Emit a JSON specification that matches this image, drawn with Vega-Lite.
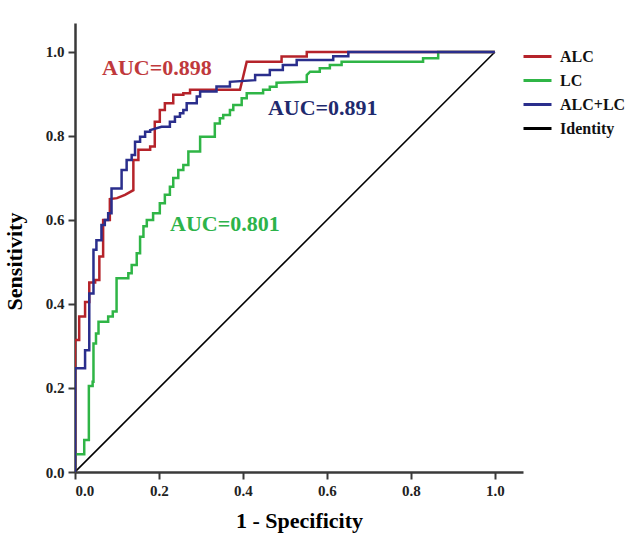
{
  "$schema": "https://vega.github.io/schema/vega-lite/v6.json",
  "width": 448,
  "height": 449,
  "autosize": {"type": "none"},
  "padding": {"left": 75, "top": 23, "right": 107, "bottom": 71},
  "background": "white",
  "config": {
    "view": {"stroke": null},
    "font": "Liberation Serif",
    "axis": {
      "grid": false,
      "domainColor": "#3a3a3a",
      "domainWidth": 2.5,
      "tickColor": "#3a3a3a",
      "tickWidth": 2,
      "tickSize": 7,
      "labelFont": "Liberation Serif",
      "labelFontWeight": "bold",
      "labelFontSize": 15,
      "labelColor": "#222222",
      "labelPadding": 4,
      "titleFont": "Liberation Serif",
      "titleFontWeight": "bold",
      "titleFontSize": 22,
      "titleColor": "#000000"
    },
    "legend": {
      "orient": "none",
      "legendX": 447,
      "legendY": 18,
      "title": null,
      "symbolType": "stroke",
      "symbolSize": 784,
      "symbolStrokeWidth": 3,
      "labelFont": "Liberation Serif",
      "labelFontWeight": "bold",
      "labelFontSize": 16,
      "labelColor": "#111111",
      "labelOffset": 7,
      "rowPadding": -7
    }
  },
  "datasets": {
    "roc": [
      {"series": "LC", "i": 0, "fpr": 0, "tpr": 0},
      {"series": "LC", "i": 1, "fpr": 0, "tpr": 0.042},
      {"series": "LC", "i": 2, "fpr": 0.022, "tpr": 0.042},
      {"series": "LC", "i": 3, "fpr": 0.022, "tpr": 0.076},
      {"series": "LC", "i": 4, "fpr": 0.033, "tpr": 0.076},
      {"series": "LC", "i": 5, "fpr": 0.033, "tpr": 0.205},
      {"series": "LC", "i": 6, "fpr": 0.042, "tpr": 0.205},
      {"series": "LC", "i": 7, "fpr": 0.042, "tpr": 0.215},
      {"series": "LC", "i": 8, "fpr": 0.044, "tpr": 0.215},
      {"series": "LC", "i": 9, "fpr": 0.044, "tpr": 0.306},
      {"series": "LC", "i": 10, "fpr": 0.05, "tpr": 0.306},
      {"series": "LC", "i": 11, "fpr": 0.05, "tpr": 0.33},
      {"series": "LC", "i": 12, "fpr": 0.056, "tpr": 0.33},
      {"series": "LC", "i": 13, "fpr": 0.056, "tpr": 0.358},
      {"series": "LC", "i": 14, "fpr": 0.079, "tpr": 0.358},
      {"series": "LC", "i": 15, "fpr": 0.079, "tpr": 0.37},
      {"series": "LC", "i": 16, "fpr": 0.09, "tpr": 0.37},
      {"series": "LC", "i": 17, "fpr": 0.09, "tpr": 0.382},
      {"series": "LC", "i": 18, "fpr": 0.099, "tpr": 0.382},
      {"series": "LC", "i": 19, "fpr": 0.099, "tpr": 0.461},
      {"series": "LC", "i": 20, "fpr": 0.127, "tpr": 0.461},
      {"series": "LC", "i": 21, "fpr": 0.127, "tpr": 0.473},
      {"series": "LC", "i": 22, "fpr": 0.135, "tpr": 0.473},
      {"series": "LC", "i": 23, "fpr": 0.135, "tpr": 0.493},
      {"series": "LC", "i": 24, "fpr": 0.147, "tpr": 0.493},
      {"series": "LC", "i": 25, "fpr": 0.147, "tpr": 0.521},
      {"series": "LC", "i": 26, "fpr": 0.155, "tpr": 0.521},
      {"series": "LC", "i": 27, "fpr": 0.155, "tpr": 0.56},
      {"series": "LC", "i": 28, "fpr": 0.163, "tpr": 0.56},
      {"series": "LC", "i": 29, "fpr": 0.163, "tpr": 0.585},
      {"series": "LC", "i": 30, "fpr": 0.171, "tpr": 0.585},
      {"series": "LC", "i": 31, "fpr": 0.171, "tpr": 0.6},
      {"series": "LC", "i": 32, "fpr": 0.186, "tpr": 0.6},
      {"series": "LC", "i": 33, "fpr": 0.186, "tpr": 0.616},
      {"series": "LC", "i": 34, "fpr": 0.202, "tpr": 0.616},
      {"series": "LC", "i": 35, "fpr": 0.202, "tpr": 0.64},
      {"series": "LC", "i": 36, "fpr": 0.214, "tpr": 0.64},
      {"series": "LC", "i": 37, "fpr": 0.214, "tpr": 0.66},
      {"series": "LC", "i": 38, "fpr": 0.226, "tpr": 0.66},
      {"series": "LC", "i": 39, "fpr": 0.226, "tpr": 0.679},
      {"series": "LC", "i": 40, "fpr": 0.234, "tpr": 0.679},
      {"series": "LC", "i": 41, "fpr": 0.234, "tpr": 0.7},
      {"series": "LC", "i": 42, "fpr": 0.246, "tpr": 0.7},
      {"series": "LC", "i": 43, "fpr": 0.246, "tpr": 0.719},
      {"series": "LC", "i": 44, "fpr": 0.258, "tpr": 0.719},
      {"series": "LC", "i": 45, "fpr": 0.258, "tpr": 0.731},
      {"series": "LC", "i": 46, "fpr": 0.27, "tpr": 0.731},
      {"series": "LC", "i": 47, "fpr": 0.27, "tpr": 0.763},
      {"series": "LC", "i": 48, "fpr": 0.298, "tpr": 0.763},
      {"series": "LC", "i": 49, "fpr": 0.298, "tpr": 0.798},
      {"series": "LC", "i": 50, "fpr": 0.333, "tpr": 0.798},
      {"series": "LC", "i": 51, "fpr": 0.333, "tpr": 0.83},
      {"series": "LC", "i": 52, "fpr": 0.345, "tpr": 0.83},
      {"series": "LC", "i": 53, "fpr": 0.345, "tpr": 0.842},
      {"series": "LC", "i": 54, "fpr": 0.353, "tpr": 0.842},
      {"series": "LC", "i": 55, "fpr": 0.353, "tpr": 0.85},
      {"series": "LC", "i": 56, "fpr": 0.369, "tpr": 0.85},
      {"series": "LC", "i": 57, "fpr": 0.369, "tpr": 0.862},
      {"series": "LC", "i": 58, "fpr": 0.377, "tpr": 0.862},
      {"series": "LC", "i": 59, "fpr": 0.377, "tpr": 0.874},
      {"series": "LC", "i": 60, "fpr": 0.397, "tpr": 0.874},
      {"series": "LC", "i": 61, "fpr": 0.397, "tpr": 0.89},
      {"series": "LC", "i": 62, "fpr": 0.409, "tpr": 0.89},
      {"series": "LC", "i": 63, "fpr": 0.409, "tpr": 0.902},
      {"series": "LC", "i": 64, "fpr": 0.448, "tpr": 0.902},
      {"series": "LC", "i": 65, "fpr": 0.448, "tpr": 0.91},
      {"series": "LC", "i": 66, "fpr": 0.464, "tpr": 0.91},
      {"series": "LC", "i": 67, "fpr": 0.464, "tpr": 0.917},
      {"series": "LC", "i": 68, "fpr": 0.48, "tpr": 0.917},
      {"series": "LC", "i": 69, "fpr": 0.48, "tpr": 0.927},
      {"series": "LC", "i": 70, "fpr": 0.552, "tpr": 0.929},
      {"series": "LC", "i": 71, "fpr": 0.552, "tpr": 0.945},
      {"series": "LC", "i": 72, "fpr": 0.56, "tpr": 0.953},
      {"series": "LC", "i": 73, "fpr": 0.583, "tpr": 0.953},
      {"series": "LC", "i": 74, "fpr": 0.583, "tpr": 0.961},
      {"series": "LC", "i": 75, "fpr": 0.607, "tpr": 0.961},
      {"series": "LC", "i": 76, "fpr": 0.607, "tpr": 0.969},
      {"series": "LC", "i": 77, "fpr": 0.635, "tpr": 0.969},
      {"series": "LC", "i": 78, "fpr": 0.635, "tpr": 0.977},
      {"series": "LC", "i": 79, "fpr": 0.829, "tpr": 0.977},
      {"series": "LC", "i": 80, "fpr": 0.829, "tpr": 0.985},
      {"series": "LC", "i": 81, "fpr": 0.865, "tpr": 0.985},
      {"series": "LC", "i": 82, "fpr": 0.865, "tpr": 1.0},
      {"series": "LC", "i": 83, "fpr": 1.0, "tpr": 1.0},

      {"series": "ALC", "i": 0, "fpr": 0, "tpr": 0},
      {"series": "ALC", "i": 1, "fpr": 0, "tpr": 0.314},
      {"series": "ALC", "i": 2, "fpr": 0.01, "tpr": 0.314},
      {"series": "ALC", "i": 3, "fpr": 0.01, "tpr": 0.37},
      {"series": "ALC", "i": 4, "fpr": 0.024, "tpr": 0.37},
      {"series": "ALC", "i": 5, "fpr": 0.024, "tpr": 0.405},
      {"series": "ALC", "i": 6, "fpr": 0.034, "tpr": 0.405},
      {"series": "ALC", "i": 7, "fpr": 0.034, "tpr": 0.451},
      {"series": "ALC", "i": 8, "fpr": 0.048, "tpr": 0.451},
      {"series": "ALC", "i": 9, "fpr": 0.048, "tpr": 0.457},
      {"series": "ALC", "i": 10, "fpr": 0.058, "tpr": 0.457},
      {"series": "ALC", "i": 11, "fpr": 0.058, "tpr": 0.513},
      {"series": "ALC", "i": 12, "fpr": 0.067, "tpr": 0.513},
      {"series": "ALC", "i": 13, "fpr": 0.067, "tpr": 0.6},
      {"series": "ALC", "i": 14, "fpr": 0.083, "tpr": 0.6},
      {"series": "ALC", "i": 15, "fpr": 0.083, "tpr": 0.65},
      {"series": "ALC", "i": 16, "fpr": 0.1, "tpr": 0.652},
      {"series": "ALC", "i": 17, "fpr": 0.119, "tpr": 0.66},
      {"series": "ALC", "i": 18, "fpr": 0.139, "tpr": 0.671},
      {"series": "ALC", "i": 19, "fpr": 0.139, "tpr": 0.743},
      {"series": "ALC", "i": 20, "fpr": 0.151, "tpr": 0.743},
      {"series": "ALC", "i": 21, "fpr": 0.151, "tpr": 0.767},
      {"series": "ALC", "i": 22, "fpr": 0.179, "tpr": 0.767},
      {"series": "ALC", "i": 23, "fpr": 0.179, "tpr": 0.775},
      {"series": "ALC", "i": 24, "fpr": 0.19, "tpr": 0.775},
      {"series": "ALC", "i": 25, "fpr": 0.19, "tpr": 0.834},
      {"series": "ALC", "i": 26, "fpr": 0.202, "tpr": 0.834},
      {"series": "ALC", "i": 27, "fpr": 0.202, "tpr": 0.862},
      {"series": "ALC", "i": 28, "fpr": 0.214, "tpr": 0.862},
      {"series": "ALC", "i": 29, "fpr": 0.214, "tpr": 0.878},
      {"series": "ALC", "i": 30, "fpr": 0.234, "tpr": 0.878},
      {"series": "ALC", "i": 31, "fpr": 0.234, "tpr": 0.898},
      {"series": "ALC", "i": 32, "fpr": 0.258, "tpr": 0.898},
      {"series": "ALC", "i": 33, "fpr": 0.258, "tpr": 0.902},
      {"series": "ALC", "i": 34, "fpr": 0.274, "tpr": 0.902},
      {"series": "ALC", "i": 35, "fpr": 0.274, "tpr": 0.91},
      {"series": "ALC", "i": 36, "fpr": 0.393, "tpr": 0.91},
      {"series": "ALC", "i": 37, "fpr": 0.409, "tpr": 0.977},
      {"series": "ALC", "i": 38, "fpr": 0.492, "tpr": 0.977},
      {"series": "ALC", "i": 39, "fpr": 0.492, "tpr": 0.989},
      {"series": "ALC", "i": 40, "fpr": 0.552, "tpr": 0.989},
      {"series": "ALC", "i": 41, "fpr": 0.552, "tpr": 1.0},
      {"series": "ALC", "i": 42, "fpr": 1.0, "tpr": 1.0},

      {"series": "ALC+LC", "i": 0, "fpr": 0, "tpr": 0},
      {"series": "ALC+LC", "i": 1, "fpr": 0, "tpr": 0.247},
      {"series": "ALC+LC", "i": 2, "fpr": 0.024, "tpr": 0.247},
      {"series": "ALC+LC", "i": 3, "fpr": 0.024, "tpr": 0.29},
      {"series": "ALC+LC", "i": 4, "fpr": 0.034, "tpr": 0.29},
      {"series": "ALC+LC", "i": 5, "fpr": 0.034, "tpr": 0.425},
      {"series": "ALC+LC", "i": 6, "fpr": 0.044, "tpr": 0.425},
      {"series": "ALC+LC", "i": 7, "fpr": 0.044, "tpr": 0.529},
      {"series": "ALC+LC", "i": 8, "fpr": 0.051, "tpr": 0.529},
      {"series": "ALC+LC", "i": 9, "fpr": 0.051, "tpr": 0.552},
      {"series": "ALC+LC", "i": 10, "fpr": 0.063, "tpr": 0.552},
      {"series": "ALC+LC", "i": 11, "fpr": 0.063, "tpr": 0.588},
      {"series": "ALC+LC", "i": 12, "fpr": 0.071, "tpr": 0.588},
      {"series": "ALC+LC", "i": 13, "fpr": 0.071, "tpr": 0.6},
      {"series": "ALC+LC", "i": 14, "fpr": 0.079, "tpr": 0.6},
      {"series": "ALC+LC", "i": 15, "fpr": 0.079, "tpr": 0.616},
      {"series": "ALC+LC", "i": 16, "fpr": 0.087, "tpr": 0.616},
      {"series": "ALC+LC", "i": 17, "fpr": 0.087, "tpr": 0.675},
      {"series": "ALC+LC", "i": 18, "fpr": 0.111, "tpr": 0.675},
      {"series": "ALC+LC", "i": 19, "fpr": 0.111, "tpr": 0.719},
      {"series": "ALC+LC", "i": 20, "fpr": 0.123, "tpr": 0.719},
      {"series": "ALC+LC", "i": 21, "fpr": 0.123, "tpr": 0.743},
      {"series": "ALC+LC", "i": 22, "fpr": 0.135, "tpr": 0.743},
      {"series": "ALC+LC", "i": 23, "fpr": 0.135, "tpr": 0.755},
      {"series": "ALC+LC", "i": 24, "fpr": 0.143, "tpr": 0.755},
      {"series": "ALC+LC", "i": 25, "fpr": 0.143, "tpr": 0.786},
      {"series": "ALC+LC", "i": 26, "fpr": 0.155, "tpr": 0.786},
      {"series": "ALC+LC", "i": 27, "fpr": 0.155, "tpr": 0.798},
      {"series": "ALC+LC", "i": 28, "fpr": 0.167, "tpr": 0.798},
      {"series": "ALC+LC", "i": 29, "fpr": 0.167, "tpr": 0.81},
      {"series": "ALC+LC", "i": 30, "fpr": 0.179, "tpr": 0.81},
      {"series": "ALC+LC", "i": 31, "fpr": 0.179, "tpr": 0.814},
      {"series": "ALC+LC", "i": 32, "fpr": 0.206, "tpr": 0.822},
      {"series": "ALC+LC", "i": 33, "fpr": 0.226, "tpr": 0.822},
      {"series": "ALC+LC", "i": 34, "fpr": 0.226, "tpr": 0.834},
      {"series": "ALC+LC", "i": 35, "fpr": 0.238, "tpr": 0.834},
      {"series": "ALC+LC", "i": 36, "fpr": 0.238, "tpr": 0.846},
      {"series": "ALC+LC", "i": 37, "fpr": 0.25, "tpr": 0.846},
      {"series": "ALC+LC", "i": 38, "fpr": 0.25, "tpr": 0.854},
      {"series": "ALC+LC", "i": 39, "fpr": 0.258, "tpr": 0.854},
      {"series": "ALC+LC", "i": 40, "fpr": 0.258, "tpr": 0.862},
      {"series": "ALC+LC", "i": 41, "fpr": 0.266, "tpr": 0.862},
      {"series": "ALC+LC", "i": 42, "fpr": 0.266, "tpr": 0.878},
      {"series": "ALC+LC", "i": 43, "fpr": 0.29, "tpr": 0.878},
      {"series": "ALC+LC", "i": 44, "fpr": 0.29, "tpr": 0.894},
      {"series": "ALC+LC", "i": 45, "fpr": 0.298, "tpr": 0.894},
      {"series": "ALC+LC", "i": 46, "fpr": 0.298, "tpr": 0.906},
      {"series": "ALC+LC", "i": 47, "fpr": 0.337, "tpr": 0.906},
      {"series": "ALC+LC", "i": 48, "fpr": 0.337, "tpr": 0.918},
      {"series": "ALC+LC", "i": 49, "fpr": 0.369, "tpr": 0.918},
      {"series": "ALC+LC", "i": 50, "fpr": 0.369, "tpr": 0.929},
      {"series": "ALC+LC", "i": 51, "fpr": 0.429, "tpr": 0.933},
      {"series": "ALC+LC", "i": 52, "fpr": 0.429, "tpr": 0.945},
      {"series": "ALC+LC", "i": 53, "fpr": 0.464, "tpr": 0.945},
      {"series": "ALC+LC", "i": 54, "fpr": 0.464, "tpr": 0.957},
      {"series": "ALC+LC", "i": 55, "fpr": 0.495, "tpr": 0.957},
      {"series": "ALC+LC", "i": 56, "fpr": 0.495, "tpr": 0.969},
      {"series": "ALC+LC", "i": 57, "fpr": 0.528, "tpr": 0.969},
      {"series": "ALC+LC", "i": 58, "fpr": 0.528, "tpr": 0.981},
      {"series": "ALC+LC", "i": 59, "fpr": 0.615, "tpr": 0.981},
      {"series": "ALC+LC", "i": 60, "fpr": 0.615, "tpr": 0.99},
      {"series": "ALC+LC", "i": 61, "fpr": 0.651, "tpr": 0.99},
      {"series": "ALC+LC", "i": 62, "fpr": 0.651, "tpr": 1.0},
      {"series": "ALC+LC", "i": 63, "fpr": 1.0, "tpr": 1.0}
    ],
    "identity": [
      {"series": "Identity", "i": 0, "fpr": 0, "tpr": 0},
      {"series": "Identity", "i": 1, "fpr": 1, "tpr": 1}
    ],
    "labels": [
      {"series": "ALC", "text": "AUC=0.898", "fpr": 0.195, "tpr": 0.962},
      {"series": "ALC+LC", "text": "AUC=0.891", "fpr": 0.59, "tpr": 0.867},
      {"series": "LC", "text": "AUC=0.801", "fpr": 0.357, "tpr": 0.59}
    ]
  },
  "layer": [
    {
      "data": {"name": "identity"},
      "mark": {"type": "line", "strokeWidth": 1.6, "clip": true},
      "encoding": {
        "x": {"field": "fpr", "type": "quantitative"},
        "y": {"field": "tpr", "type": "quantitative"},
        "color": {"field": "series", "type": "nominal"},
        "order": {"field": "i", "type": "quantitative"}
      }
    },
    {
      "data": {"name": "roc"},
      "mark": {"type": "line", "strokeWidth": 2.5, "clip": true},
      "encoding": {
        "x": {
          "field": "fpr", "type": "quantitative",
          "scale": {"domain": [0, 1.067], "nice": false, "zero": false},
          "axis": {"values": [0, 0.2, 0.4, 0.6, 0.8, 1.0], "format": ".1f", "title": "1 - Specificity", "titlePadding": 12}
        },
        "y": {
          "field": "tpr", "type": "quantitative",
          "scale": {"domain": [0, 1.069], "nice": false, "zero": false},
          "axis": {"values": [0, 0.2, 0.4, 0.6, 0.8, 1.0], "format": ".1f", "title": "Sensitivity", "titleX": -49, "titleY": 238, "titleAnchor": "middle"}
        },
        "color": {
          "field": "series", "type": "nominal",
          "scale": {"domain": ["ALC", "LC", "ALC+LC", "Identity"], "range": ["#B5232A", "#2FB546", "#2A2E8C", "#000000"]}
        },
        "order": {"field": "i", "type": "quantitative"}
      }
    },
    {
      "data": {"name": "labels"},
      "mark": {"type": "text", "font": "Liberation Serif", "fontWeight": "bold", "fontSize": 22, "align": "center", "baseline": "middle"},
      "encoding": {
        "x": {"field": "fpr", "type": "quantitative"},
        "y": {"field": "tpr", "type": "quantitative"},
        "text": {"field": "text", "type": "nominal"},
        "fill": {
          "field": "series", "type": "nominal", "legend": null,
          "scale": {"domain": ["ALC", "LC", "ALC+LC"], "range": ["#C0393C", "#2DB34A", "#1F2A6E"]}
        }
      }
    }
  ]
}
